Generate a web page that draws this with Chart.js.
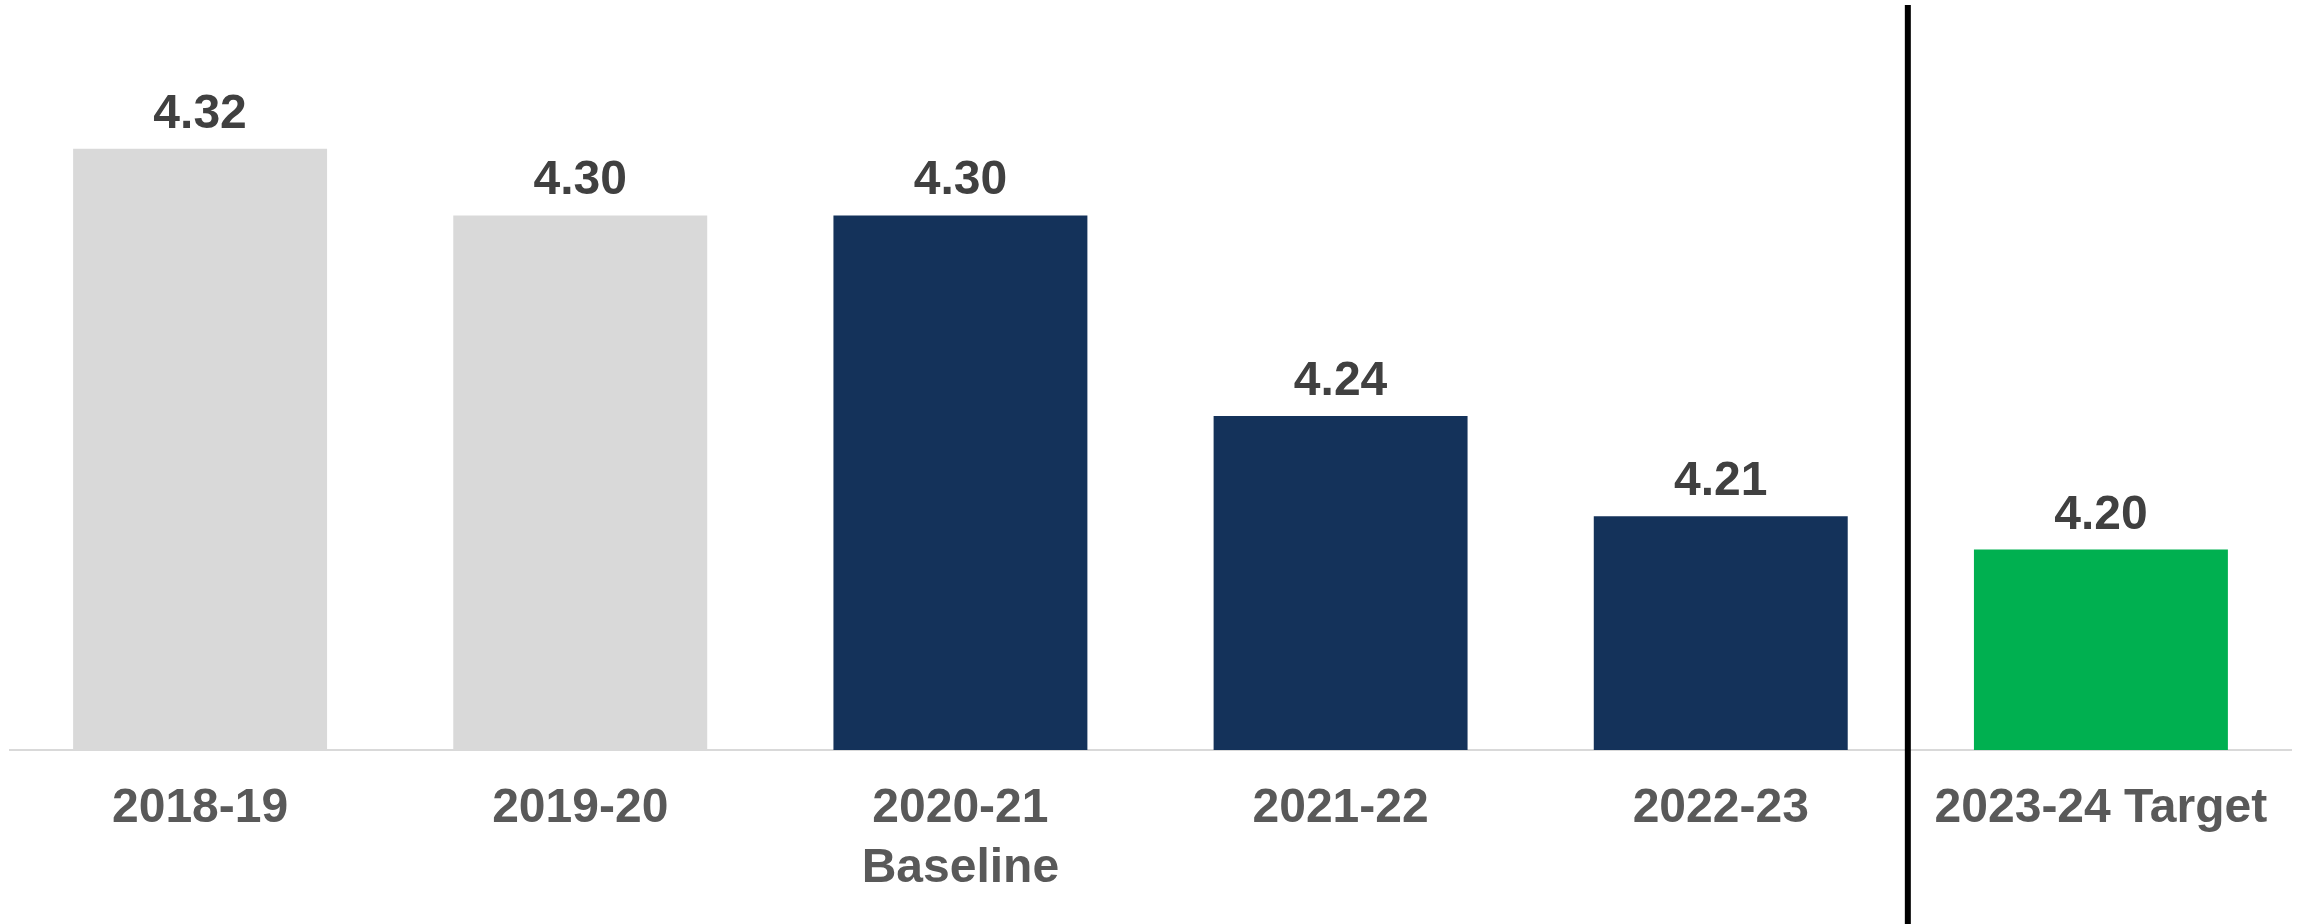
<!DOCTYPE html>
<html>
<head>
<meta charset="utf-8">
<script src="https://cdn.jsdelivr.net/npm/chart.js@4/dist/chart.umd.min.js"></script>
<style>
html,body{margin:0;padding:0;background:#fff;}
#wrap{width:2303px;height:924px;position:relative;}
</style>
</head>
<body>
<div id="wrap"><canvas id="c"></canvas></div>
<script>
const categories = [["2018-19"], ["2019-20"], ["2020-21", "Baseline"], ["2021-22"], ["2022-23"], ["2023-24 Target"]];
const values = [4.32, 4.30, 4.30, 4.24, 4.21, 4.20];
const barColors = ["#d9d9d9", "#d9d9d9", "#14325a", "#14325a", "#14325a", "#00b050"];
const yMin = 4.14;
const yMax = 4.36;
const dividerAfterIndex = 4;

const labelPlugin = {
  id: 'valueLabels',
  afterDatasetsDraw(chart) {
    const ctx = chart.ctx;
    const meta = chart.getDatasetMeta(0);
    ctx.save();
    ctx.font = 'bold 48px "Liberation Sans", Arial, sans-serif';
    ctx.fillStyle = '#404040';
    ctx.textAlign = 'center';
    ctx.textBaseline = 'alphabetic';
    meta.data.forEach((bar, i) => {
      ctx.fillText(values[i].toFixed(2), bar.x, bar.y - 21);
    });
    // divider line
    const xs = chart.scales.x;
    const xPos = (xs.getPixelForValue(dividerAfterIndex) + xs.getPixelForValue(dividerAfterIndex + 1)) / 2 - 3;
    ctx.strokeStyle = '#000000';
    ctx.lineWidth = 6;
    ctx.beginPath();
    ctx.moveTo(xPos, chart.chartArea.top - 10);
    ctx.lineTo(xPos, chart.height);
    ctx.stroke();
    ctx.restore();
  }
};

new Chart(document.getElementById('c'), {
  type: 'bar',
  data: {
    labels: categories,
    datasets: [{
      data: values,
      backgroundColor: barColors,
      borderWidth: 0,
      categoryPercentage: 1.0,
      barPercentage: 0.668
    }]
  },
  options: {
    responsive: true,
    maintainAspectRatio: false,
    animation: false,
    layout: { padding: { left: 10, right: 12, top: 15, bottom: 0 } },
    plugins: { legend: { display: false }, tooltip: { enabled: false } },
    scales: {
      x: {
        grid: { display: false, drawTicks: false },
        border: { display: true, color: '#d9d9d9', width: 2 },
        ticks: {
          color: '#595959',
          font: { family: '"Liberation Sans", Arial, sans-serif', size: 48, weight: 'bold', lineHeight: 1.25 },
          padding: 29,
          maxRotation: 0,
          autoSkip: false
        },
        afterFit(scale) { scale.height = 174; }
      },
      y: {
        display: false,
        min: yMin,
        max: yMax
      }
    }
  },
  plugins: [labelPlugin]
});
</script>
</body>
</html>
